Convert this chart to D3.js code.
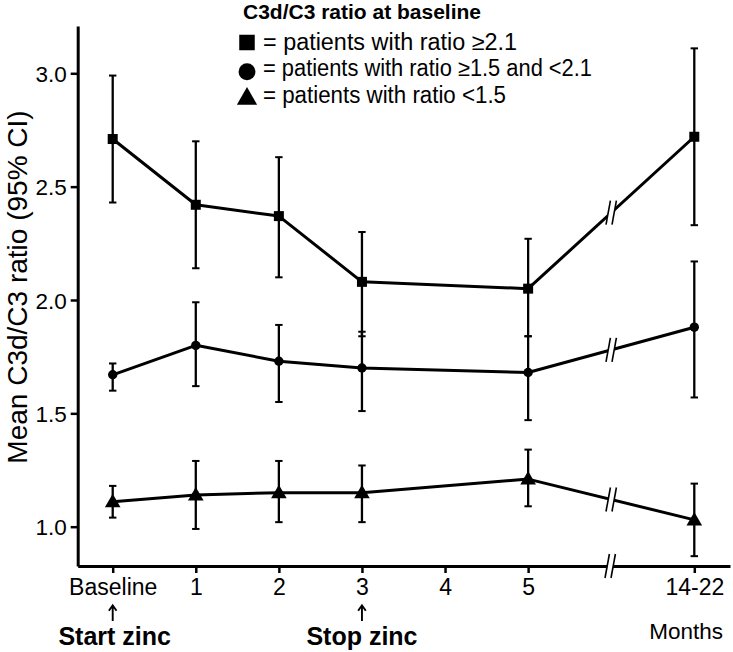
<!DOCTYPE html>
<html>
<head>
<meta charset="utf-8">
<script src="https://cdn.jsdelivr.net/npm/d3@7"></script>
<style>
  html, body { margin: 0; padding: 0; background: #fff; }
  svg { display: block; }
  text { font-family: "Liberation Sans", Arial, sans-serif; fill: #000; }
</style>
</head>
<body>
<svg id="chart" width="733" height="652"></svg>
<script>
// ---------------- data ----------------
const xTickLabels = ["Baseline", "1", "2", "3", "4", "5", "14-22"];
const xTickPos    = [0, 1, 2, 3, 4, 5, 7];
const timePos     = [0, 1, 2, 3, 5, 7];   // measured time points (position on axis)
const yTicks      = [1.0, 1.5, 2.0, 2.5, 3.0];

const squareMean = [2.71, 2.42, 2.37, 2.08, 2.05, 2.72];
const squareLow  = [2.43, 2.14, 2.10, 1.84, 1.84, 2.33];
const squareHigh = [2.99, 2.70, 2.63, 2.30, 2.27, 3.11];

const circleMean = [1.67, 1.80, 1.73, 1.70, 1.68, 1.88];
const circleLow  = [1.60, 1.62, 1.55, 1.51, 1.47, 1.57];
const circleHigh = [1.72, 1.99, 1.89, 1.86, 1.84, 2.17];

const triMean = [1.11, 1.14, 1.15, 1.15, 1.21, 1.03];
const triLow  = [1.04, 0.99, 1.02, 1.02, 1.09, 0.87];
const triHigh = [1.18, 1.29, 1.29, 1.27, 1.34, 1.19];

const legendTitle = "C3d/C3 ratio at baseline";
const legendLabels = [
  "= patients with ratio \u22652.1",
  "= patients with ratio \u22651.5 and <2.1",
  "= patients with ratio <1.5"
];
const yTitle = "Mean C3d/C3 ratio (95% CI)";
const xTitle = "Months";
const annotations = [
  { pos: 0, label: "Start zinc" },
  { pos: 3, label: "Stop zinc" }
];
const breakPos = 6;

// ---------------- layout ----------------
const svg = d3.select("#chart");
const axisX0 = 77.7, axisX1 = 730, axisY0 = 566, axisY1 = 26;

const x = d3.scaleLinear()
  .domain([-0.4213, 7.4298])
  .range([axisX0, axisX1]);
const y = d3.scaleLinear()
  .domain([0.8266, 3.2086])
  .range([axisY0, axisY1]);

// ---------------- axes ----------------
const yAxis = d3.axisLeft(y)
  .tickValues(yTicks)
  .tickFormat(d3.format(".1f"))
  .tickSizeOuter(0)
  .tickSizeInner(7)
  .tickPadding(4);
const gy = svg.append("g")
  .attr("transform", `translate(${axisX0},0)`)
  .call(yAxis);
gy.select(".domain").attr("stroke-width", 3).attr("stroke", "#000");
gy.selectAll(".tick line").attr("stroke-width", 2.5).attr("stroke", "#000");
gy.selectAll(".tick text")
  .attr("font-size", 22.5)
  .attr("font-family", "'Liberation Sans', Arial, sans-serif")
  .attr("dy", "0.36em");

const xAxis = d3.axisBottom(x)
  .tickValues(xTickPos)
  .tickFormat((d, i) => xTickLabels[i])
  .tickSizeOuter(0)
  .tickSizeInner(7)
  .tickPadding(6);
const gx = svg.append("g")
  .attr("transform", `translate(0,${axisY0})`)
  .call(xAxis);
gx.select(".domain").attr("stroke-width", 3).attr("stroke", "#000");
gx.selectAll(".tick line").attr("stroke-width", 2.5).attr("stroke", "#000");
gx.selectAll(".tick text")
  .attr("font-size", 23)
  .attr("font-family", "'Liberation Sans', Arial, sans-serif");

// y axis title
svg.append("text")
  .attr("transform", "translate(27,287) rotate(-90)")
  .attr("text-anchor", "middle")
  .attr("font-size", 28)
  .text(yTitle);

// x axis title
svg.append("text")
  .attr("x", 723).attr("y", 639)
  .attr("text-anchor", "end")
  .attr("font-size", 22.5)
  .text(xTitle);

// annotations (arrow drawn as a mark, label as text)
annotations.forEach(a => {
  const ax = x(a.pos);
  svg.append("path")
    .attr("d", `M${ax},621V606M${ax - 3.8},610.8L${ax},605.3L${ax + 3.8},610.8`)
    .attr("fill", "none")
    .attr("stroke", "#000")
    .attr("stroke-width", 1.9);
  svg.append("text")
    .attr("x", ax + (a.pos === 0 ? 2 : 0)).attr("y", 645)
    .attr("text-anchor", "middle")
    .attr("font-size", 25)
    .attr("font-weight", "bold")
    .text(a.label);
});

// ---------------- break marks ----------------
function breakMark(cx, cy) {
  const h = 12, dx = 2.2, off = 3;
  svg.append("polygon")
    .attr("points", [
      [cx - off - dx, cy + h], [cx - off + dx, cy - h],
      [cx + off + dx, cy - h], [cx + off - dx, cy + h]
    ].map(p => p.join(",")).join(" "))
    .attr("fill", "#fff");
  [-off, off].forEach(o => {
    svg.append("line")
      .attr("x1", cx + o - dx).attr("y1", cy + h)
      .attr("x2", cx + o + dx).attr("y2", cy - h)
      .attr("stroke", "#000").attr("stroke-width", 1.6);
  });
}

// ---------------- series ----------------
const series = [
  { mean: squareMean, low: squareLow, high: squareHigh, shape: "square" },
  { mean: circleMean, low: circleLow, high: circleHigh, shape: "circle" },
  { mean: triMean,    low: triLow,    high: triHigh,    shape: "triangle" }
];

const line = d3.line().x(d => x(d.t)).y(d => y(d.v));

function drawMarker(g, shape, cx, cy, scale) {
  const s = scale || 1;
  if (shape === "square") {
    g.append("rect")
      .attr("x", cx - 5 * s).attr("y", cy - 5 * s)
      .attr("width", 10 * s).attr("height", 10 * s)
      .attr("fill", "#000");
  } else if (shape === "circle") {
    g.append("circle")
      .attr("cx", cx).attr("cy", cy).attr("r", 4.7 * s)
      .attr("fill", "#000");
  } else {
    g.append("path")
      .attr("d", `M${cx},${cy - 8 * s}L${cx + 7.8 * s},${cy + 5.5 * s}L${cx - 7.8 * s},${cy + 5.5 * s}Z`)
      .attr("fill", "#000");
  }
}

series.forEach(s => {
  const pts = timePos.map((t, i) => ({ t, v: s.mean[i], lo: s.low[i], hi: s.high[i] }));
  const g = svg.append("g");
  // error bars
  pts.forEach(p => {
    const px = x(p.t);
    g.append("line")
      .attr("x1", px).attr("x2", px)
      .attr("y1", y(p.lo)).attr("y2", y(p.hi))
      .attr("stroke", "#000").attr("stroke-width", 2.3);
    [p.lo, p.hi].forEach(v => {
      g.append("line")
        .attr("x1", px - 3.7).attr("x2", px + 3.7)
        .attr("y1", y(v)).attr("y2", y(v))
        .attr("stroke", "#000").attr("stroke-width", 2);
    });
  });
  // connecting line
  g.append("path")
    .attr("d", line(pts))
    .attr("fill", "none")
    .attr("stroke", "#000")
    .attr("stroke-width", 3)
    .attr("stroke-linejoin", "round");
  // markers
  pts.forEach(p => drawMarker(g, s.shape, x(p.t), y(p.v)));
  // break mark on the line segment crossing the break position
  const a = pts[pts.length - 2], b = pts[pts.length - 1];
  const f = (breakPos - a.t) / (b.t - a.t);
  breakMark(x(breakPos), y(a.v) + f * (y(b.v) - y(a.v)));
});

// x axis break
breakMark(x(breakPos) - 1, axisY0);

// ---------------- legend ----------------
svg.append("text")
  .attr("x", 243).attr("y", 19)
  .attr("font-size", 20)
  .attr("font-weight", "bold")
  .attr("textLength", 238)
  .attr("lengthAdjust", "spacingAndGlyphs")
  .text(legendTitle);

const legendShapes = ["square", "circle", "triangle"];
const legendBase = [49.5, 76, 102.7];
const legendSym = [42.5, 71.7, 97.5];
const legendWidths = [254, 329, 243];
legendShapes.forEach((sh, i) => {
  drawMarker(svg, sh, 247, legendSym[i], sh === "square" ? 1.55 : (sh === "circle" ? 1.8 : 1.3));
  svg.append("text")
    .attr("x", 263).attr("y", legendBase[i])
    .attr("font-size", 23)
    .attr("textLength", legendWidths[i])
    .attr("lengthAdjust", "spacingAndGlyphs")
    .text(legendLabels[i]);
});
</script>
</body>
</html>
